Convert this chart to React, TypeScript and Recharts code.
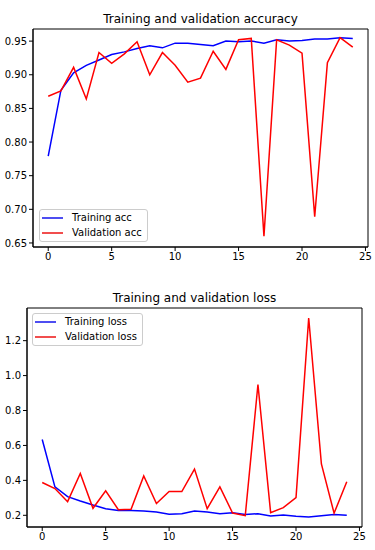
import { LineChart, Line, XAxis, YAxis, Legend, ReferenceArea } from 'recharts';

const epochs = Array.from({ length: 25 }, (_, i) => i);

const trainAcc = [
  0.779, 0.877, 0.903, 0.914, 0.922, 0.93, 0.934, 0.939, 0.943, 0.94, 0.947, 0.947, 0.945,
  0.943, 0.95, 0.949, 0.95, 0.947, 0.952, 0.95, 0.951, 0.953, 0.953, 0.955, 0.954,
];
const valAcc = [
  0.868, 0.876, 0.911, 0.864, 0.933, 0.917, 0.931, 0.949, 0.9, 0.933, 0.914, 0.889, 0.895,
  0.935, 0.908, 0.952, 0.954, 0.66, 0.952, 0.944, 0.932, 0.689, 0.918, 0.955, 0.941,
];
const trainLoss = [
  0.634, 0.363, 0.307, 0.282, 0.259, 0.238, 0.227, 0.227, 0.225, 0.219, 0.206, 0.209, 0.225,
  0.219, 0.209, 0.215, 0.204, 0.209, 0.196, 0.202, 0.194, 0.19, 0.197, 0.205, 0.2,
];
const valLoss = [
  0.388, 0.353, 0.278, 0.44, 0.24, 0.34, 0.232, 0.234, 0.425, 0.267, 0.336, 0.336, 0.465,
  0.238, 0.363, 0.213, 0.198, 0.949, 0.215, 0.244, 0.301, 1.33, 0.494, 0.212, 0.392,
];

const xTicks = [0, 5, 10, 15, 20, 25];
const accTicks = [0.65, 0.7, 0.75, 0.8, 0.85, 0.9, 0.95];
const lossTicks = [0.2, 0.4, 0.6, 0.8, 1.0, 1.2];

const accData = epochs.map((e, i) => ({ epoch: e, train: trainAcc[i], val: valAcc[i] }));
const lossData = epochs.map((e, i) => ({ epoch: e, train: trainLoss[i], val: valLoss[i] }));

const FONT = "'DejaVu Sans', sans-serif";
const tickStyle = { fontSize: 10, fill: '#000', fontFamily: FONT };

function LegendBox({ items }: { items: { label: string; color: string }[] }) {
  return (
    <div
      style={{
        background: 'rgba(255,255,255,0.8)',
        border: '1px solid #cccccc',
        borderRadius: 3,
        padding: '1px 5px 1px 2px',
        fontSize: 10,
        fontFamily: FONT,
        color: '#000',
        lineHeight: '14.5px',
        boxSizing: 'border-box',
      }}
    >
      {items.map((it) => (
        <div key={it.label} style={{ display: 'flex', alignItems: 'center', whiteSpace: 'nowrap' }}>
          <svg width={21} height={4} style={{ marginRight: 9, display: 'block' }}>
            <line x1={0} y1={2} x2={21} y2={2} stroke={it.color} strokeWidth={1.6} />
          </svg>
          <span>{it.label}</span>
        </div>
      ))}
    </div>
  );
}

type PanelProps = {
  top: number;
  title: string;
  data: any[];
  yDomain: [number, number];
  yTicks: number[];
  digits: number;
  margin: { top: number; right: number; left: number; bottom: number };
  yWidth: number;
  xHeight: number;
  titleY: number;
  legendPos: { left: number; top: number };
  labels: [string, string];
};

function Panel(p: PanelProps) {
  const plotLeft = p.margin.left + p.yWidth;
  const plotRight = 375 - p.margin.right;
  return (
    <div style={{ position: 'absolute', left: 0, top: p.top, width: 375, height: 275 }}>
      <div
        style={{
          position: 'absolute',
          left: plotLeft,
          width: plotRight - plotLeft,
          top: p.titleY - 8,
          height: 16,
          lineHeight: '16px',
          textAlign: 'center',
          fontSize: 12,
          fontFamily: FONT,
          color: '#000',
        }}
      >
        {p.title}
      </div>
      <LineChart width={375} height={275} data={p.data} margin={p.margin}>
        <XAxis
          dataKey="epoch"
          type="number"
          domain={[-1.2, 25.2]}
          ticks={xTicks}
          allowDataOverflow
          height={p.xHeight}
          tick={tickStyle}
          tickSize={4}
          tickMargin={2}
          stroke="#000"
          interval={0}
        />
        <YAxis
          type="number"
          domain={p.yDomain}
          ticks={p.yTicks}
          allowDataOverflow
          width={p.yWidth}
          tick={tickStyle}
          tickSize={4}
          tickMargin={2}
          stroke="#000"
          interval={0}
          tickFormatter={(v: number) => v.toFixed(p.digits)}
        />
        <ReferenceArea
          x1={-1.2}
          x2={25.2}
          y1={p.yDomain[0]}
          y2={p.yDomain[1]}
          fill="none"
          fillOpacity={0}
          stroke="#000"
          strokeWidth={1}
        />
        <Line dataKey="train" stroke="#0000ff" strokeWidth={1.5} dot={false} isAnimationActive={false} />
        <Line dataKey="val" stroke="#ff0000" strokeWidth={1.5} dot={false} isAnimationActive={false} />
        <Legend
          layout="vertical"
          align="center"
          verticalAlign="middle"
          wrapperStyle={{ left: p.legendPos.left, top: p.legendPos.top, width: 'auto' }}
          content={() => (
            <LegendBox
              items={[
                { label: p.labels[0], color: '#2222ee' },
                { label: p.labels[1], color: '#ee2222' },
              ]}
            />
          )}
        />
      </LineChart>
    </div>
  );
}

export default function App() {
  return (
    <div style={{ position: 'absolute', left: 0, top: 0, width: 375, height: 550, background: '#fff' }}>
      <Panel
        top={0}
        title="Training and validation accuracy"
        data={accData}
        yDomain={[0.644, 0.968]}
        yTicks={accTicks}
        digits={2}
        margin={{ top: 29, right: 7, left: 0, bottom: 0 }}
        yWidth={33}
        xHeight={28}
        titleY={19}
        legendPos={{ left: 39, top: 209 }}
        labels={['Training acc', 'Validation acc']}
      />
      <Panel
        top={275}
        title="Training and validation loss"
        data={lossData}
        yDomain={[0.133, 1.387]}
        yTicks={lossTicks}
        digits={1}
        margin={{ top: 33, right: 13, left: 0, bottom: 0 }}
        yWidth={27}
        xHeight={23}
        titleY={23}
        legendPos={{ left: 32, top: 38 }}
        labels={['Training loss', 'Validation loss']}
      />
    </div>
  );
}
